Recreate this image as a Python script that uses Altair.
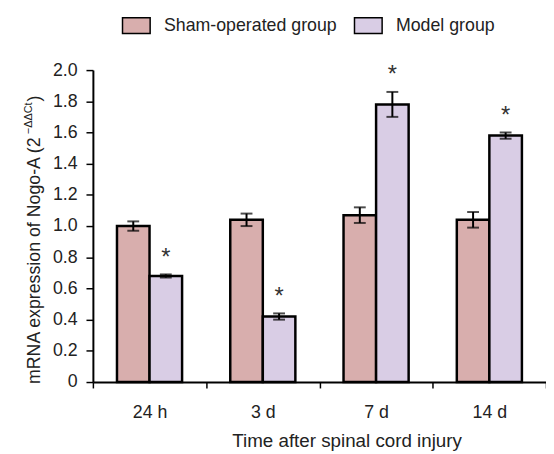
import altair as alt
import pandas as pd

categories = ["24 h", "3 d", "7 d", "14 d"]
groups = ["Sham-operated group", "Model group"]
sham_values = [1.00, 1.04, 1.07, 1.04]
sham_errors = [0.03, 0.04, 0.05, 0.05]
model_values = [0.68, 0.42, 1.78, 1.58]
model_errors = [0.01, 0.02, 0.08, 0.02]
model_stars = ["*", "*", "*", "*"]
y_ticks = [0, 0.2, 0.4, 0.6, 0.8, 1.0, 1.2, 1.4, 1.6, 1.8, 2.0]
colors = ["#D8AEAD", "#D9CDE5"]

rows = []
for i, c in enumerate(categories):
    rows.append(dict(cat=c, grp=groups[0], value=sham_values[i],
                     lo=sham_values[i] - sham_errors[i], hi=sham_values[i] + sham_errors[i], star=""))
    rows.append(dict(cat=c, grp=groups[1], value=model_values[i],
                     lo=model_values[i] - model_errors[i], hi=model_values[i] + model_errors[i], star=model_stars[i]))
df = pd.DataFrame(rows)

FONT = "Liberation Sans"
FS = 18

x_enc = alt.X("cat:N", sort=categories,
              scale=alt.Scale(paddingInner=0, paddingOuter=0),
              axis=alt.Axis(title="Time after spinal cord injury", labelAngle=0,
                            tickBand="extent", tickSize=6, tickWidth=1.5, tickColor="black",
                            domainColor="black", domainWidth=2,
                            labelFontSize=FS, labelFont=FONT, labelColor="#222",
                            labelPadding=16, titleFontSize=19, titleFont=FONT,
                            titleFontWeight="normal", titleColor="#222", titlePadding=10,
                            titleX=257))
xo_enc = alt.XOffset("grp:N", sort=groups, scale=alt.Scale(paddingInner=0, paddingOuter=0.74))
y_axis = alt.Axis(title=None, values=y_ticks, grid=False, labelOverlap=False,
                  labelExpr="datum.value == 0 ? '0' : format(datum.value, '.1f')",
                  tickSize=7, tickWidth=1.5, tickColor="black",
                  domainColor="black", domainWidth=2,
                  labelFontSize=FS, labelFont=FONT, labelColor="#222", labelPadding=9)
y_scale = alt.Scale(domain=[0, 2], nice=False)
y_enc = alt.Y("value:Q", scale=y_scale, axis=y_axis)

base = alt.Chart(df)

bars = base.mark_bar(stroke="black", strokeWidth=2.5).encode(
    x=x_enc, xOffset=xo_enc, y=y_enc,
    color=alt.Color("grp:N", sort=groups,
                    scale=alt.Scale(domain=groups, range=colors),
                    legend=alt.Legend(title=None, orient="none", direction="horizontal",
                                      legendX=29, legendY=-60,
                                      symbolType="M-1,-0.57H1V0.57H-1Z", symbolSize=784,
                                      symbolStrokeColor="black", symbolStrokeWidth=1.5,
                                      symbolOpacity=1, labelLimit=400,
                                      labelFontSize=FS, labelFont=FONT, labelColor="#222",
                                      labelOffset=13, columnPadding=14)),
)

xs = alt.X("cat:N", sort=categories)
xos = alt.XOffset("grp:N", sort=groups)
err = base.mark_rule(color="black", strokeWidth=2).encode(
    x=xs, xOffset=xos, y=alt.Y("lo:Q", scale=y_scale, axis=y_axis), y2="hi:Q")
cap_hi = base.mark_tick(color="black", orient="horizontal", size=12, thickness=2).encode(
    x=xs, xOffset=xos, y=alt.Y("hi:Q", scale=y_scale, axis=y_axis))
cap_lo = base.mark_tick(color="black", orient="horizontal", size=12, thickness=2).encode(
    x=xs, xOffset=xos, y=alt.Y("lo:Q", scale=y_scale, axis=y_axis))
stars = base.mark_text(fontSize=24, font=FONT, color="#333", baseline="alphabetic", dy=-10).encode(
    x=xs, xOffset=xos, y=alt.Y("hi:Q", scale=y_scale, axis=y_axis), text="star:N")

# y-axis title with superscript
TFS = 18
main_txt = "mRNA expression of Nogo-A (2"
sup_txt = "\u2212\u0394\u0394Ct"
w_main = 14.004 * TFS
w_sup = (0.584 + 0.668 + 0.668 + 0.722 + 0.278) * 11
y_start = 318
title_df = pd.DataFrame({"k": [0]})
tbase = alt.Chart(title_df)
t_main = tbase.mark_text(text=main_txt, angle=270, align="left", baseline="middle",
                         fontSize=TFS, font=FONT, color="#222").encode(
    x=alt.value(-59), y=alt.value(y_start))
t_sup = tbase.mark_text(text=sup_txt, angle=270, align="left", baseline="middle",
                        fontSize=11, font=FONT, color="#222").encode(
    x=alt.value(-65), y=alt.value(y_start - w_main - 1))
t_close = tbase.mark_text(text=")", angle=270, align="left", baseline="middle",
                          fontSize=TFS, font=FONT, color="#222").encode(
    x=alt.value(-59), y=alt.value(y_start - w_main - w_sup - 2))

chart = alt.layer(bars, err, cap_hi, cap_lo, stars, t_main, t_sup, t_close).properties(
    width=459, height=316,
    autosize=alt.AutoSizeParams(type="none"),
    padding={"left": 86, "top": 60, "right": 0, "bottom": 70},
).configure_view(stroke=None).configure_axisY(labelOverlap=False)

chart.save("out.html", embed_options={"renderer": "svg", "actions": False})
